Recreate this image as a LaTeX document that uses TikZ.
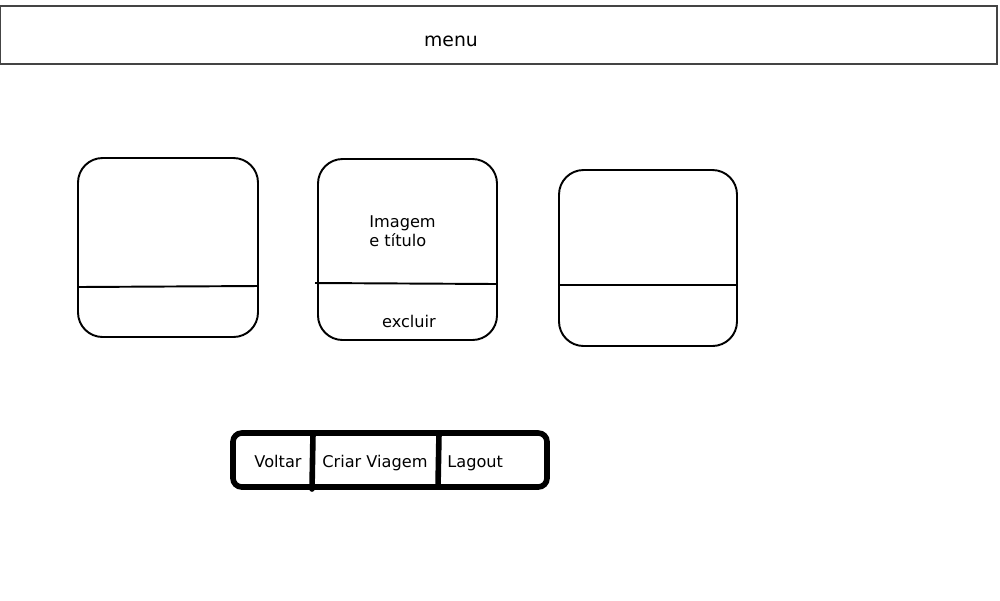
\documentclass[tikz,border=0pt]{standalone}
\usepackage{fontspec}
\setmainfont{DejaVu Sans}
\usepackage{tikz}
\definecolor{cinza}{HTML}{444444}
\tikzset{
  cartao/.style={draw, line width=1.1pt, rounded corners=14pt, minimum width=180*0.02cm, minimum height=179*0.02cm, inner sep=0pt},
  texto/.style={font=\fontsize{9.2}{11.3}\selectfont, inner sep=0pt},
}

\begin{document}
\begin{tikzpicture}[x=0.02cm,y=-0.02cm]
				\useasboundingbox (0,0) rectangle (1000,600);
				% Menu
				\node[draw=cinza, line width=0.6pt, minimum width=997*0.02cm, minimum height=58*0.02cm, inner sep=0pt] (menu) at (498.5,35) {};
				\node[font=\fontsize{10.7}{12}\selectfont, inner sep=0pt, anchor=base] (menutxt) at (451,46.5) {menu};

				% Cartoes
				\node[cartao] (c1) at (168,247.5) {};
				\node[cartao, minimum width=179*0.02cm, minimum height=181*0.02cm] (c2) at (407.5,249.5) {};
				\node[cartao, minimum width=178*0.02cm, minimum height=176*0.02cm] (c3) at (648,258) {};

				\coordinate (c1a) at (78,287);
				\coordinate (c1b) at (258,286);
				\coordinate (c2a) at (315,283);
				\coordinate (c2b) at (497,284);
				\coordinate (c3a) at (558,285);
				\coordinate (c3b) at (737,285);
				\draw[line width=1.1pt] (c1a) -- (c1b);
				\draw[line width=1.1pt] (c2a) -- (c2b);
				\draw[line width=1.1pt] (c3a) -- (c3b);

				\node[texto, anchor=base west, align=left, font=\fontsize{9.2}{10.8}\selectfont] (titulo) at (369,246.5) {Imagem\\e título};
				\node[texto, anchor=base] (excluir) at (409,327.5) {excluir};

				% Barra de botoes
				\node[draw, line width=3.2pt, rounded corners=5pt, minimum width=314*0.02cm, minimum height=54*0.02cm, inner sep=0pt] (barra) at (390,460) {};
				\coordinate (d1a) at (313,433);
				\coordinate (d1b) at (312,489);
				\coordinate (d2a) at (439,433);
				\coordinate (d2b) at (438,487);
				\draw[line width=3.2pt, line cap=round] (d1a) -- (d1b);
				\draw[line width=3.2pt] (d2a) -- (d2b);

				\node[texto, anchor=base] (voltar) at (278,467.5) {Voltar};
				\node[texto, anchor=base west] (criar) at (322,467.5) {Criar Viagem};
				\node[texto, anchor=base west] (lagout) at (447,467.5) {Lagout};

			\end{tikzpicture}
\end{document}
